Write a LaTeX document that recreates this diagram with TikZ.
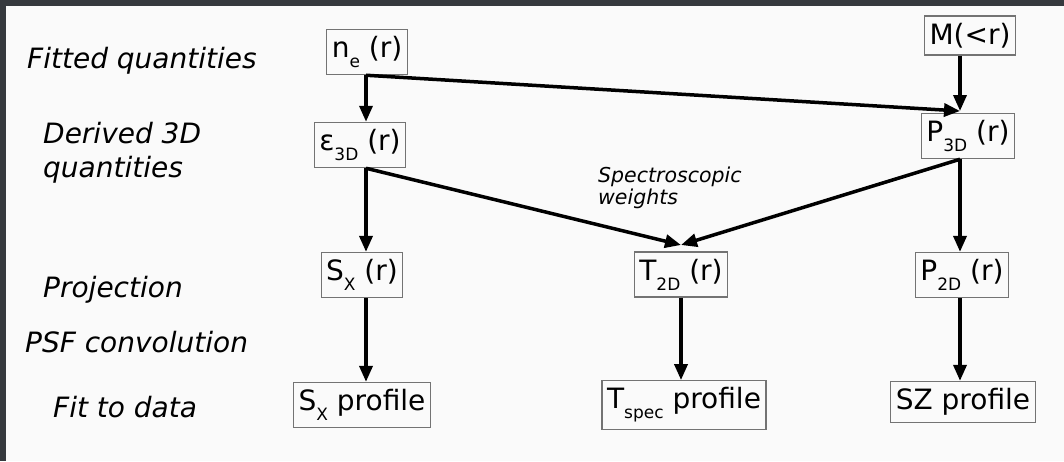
\documentclass[tikz,border=0pt]{standalone}
\usepackage{fontspec}
\setmainfont{DejaVu Sans}[ItalicFont={DejaVu Sans Oblique}]
\usepackage{tikz}
\usetikzlibrary{arrows.meta}
\usetikzlibrary{positioning}

\definecolor{framegray}{HTML}{36393E}
\definecolor{paper}{HTML}{FAFAFA}
\newcommand{\lowsub}[1]{\raisebox{-0.35em}{\fontsize{17}{17}\selectfont #1}}

\begin{document}
\begin{tikzpicture}[x=1pt,y=-1pt,
        box/.style={draw=black!55, line width=1.2pt, inner xsep=5pt, inner ysep=7pt,
            font=\fontsize{28}{34}\selectfont},
        rowlabel/.style={inner sep=0pt, align=left, font=\fontsize{28}{34}\selectfont\itshape},
        arr/.style={line width=3.5pt, -{Triangle[length=16pt,width=13pt]}}]
        \fill[paper] (0,0) rectangle (1064,461);
        \fill[framegray] (0,0) rectangle (1064,6);
        \fill[framegray] (0,0) rectangle (6,461);

        % row labels
        \node[rowlabel, anchor=base west] (lfit) at (27,68) {Fitted quantities};
        \node[rowlabel, anchor=west] (lder) at (43,153) {Derived 3D\\quantities};
        \node[rowlabel, anchor=base west] (lproj) at (43,297) {Projection};
        \node[rowlabel, anchor=base west] (lpsf) at (25,352) {PSF convolution};
        \node[rowlabel, anchor=base west] (ldata) at (53,417) {Fit to data};

        % boxes
        \node[box] (ne) at (367,52) {n\lowsub{e} (r)};
        \node[box] (m) at (970,35.5) {M(<r)};
        \node[box] (eps) at (360,145) {ε\lowsub{3D} (r)};
        \node[box] (p3) at (968,136) {P\lowsub{3D} (r)};
        \node[box] (sx) at (362,275) {S\lowsub{X} (r)};
        \node[box] (t2) at (681,274.5) {T\lowsub{2D} (r)};
        \node[box] (p2) at (962,275) {P\lowsub{2D} (r)};
        \node[box] (sxp) at (362,405) {S\lowsub{X} profile};
        \node[box] (tsp) at (684,405) {T\lowsub{spec} profile};
        \node[box] (szp) at (963,402) {SZ profile};

        \node[inner sep=0pt, align=left, anchor=west, font=\fontsize{20.5}{22}\selectfont\itshape]
            (spw) at (598,187.5) {Spectroscopic\\weights};

        % arrows
        \coordinate (colA) at (366,0);
        \coordinate (colB) at (681,0);
        \coordinate (colC) at (960,0);
        \coordinate (p3in) at (960,111);
        \coordinate (t2in) at (681,245);
        \draw[arr] (ne.south -| colA) -- (eps.north -| colA);
        \draw[arr] (ne.south -| colA) -- (p3in);
        \draw[arr] (m.south -| colC) -- (p3in);
        \draw[arr] (eps.south -| colA) -- (sx.north -| colA);
        \draw[arr] (eps.south -| colA) -- (t2in);
        \draw[arr] (p3.south -| colC) -- (t2in);
        \draw[arr] (p3.south -| colC) -- (p2.north -| colC);
        \draw[arr] (sx.south -| colA) -- (sxp.north -| colA);
        \draw[arr] (t2.south -| colB) -- (tsp.north -| colB);
        \draw[arr] (p2.south -| colC) -- (szp.north -| colC);
        \useasboundingbox (0,0) rectangle (1064,461);
    \end{tikzpicture}
\end{document}
